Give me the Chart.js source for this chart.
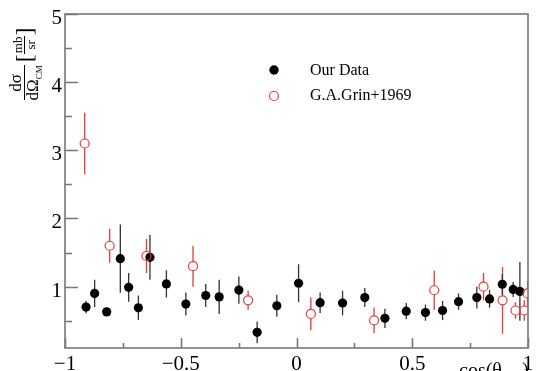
<!DOCTYPE html>
<html>
<head>
<meta charset="utf-8">
<script src="https://cdn.jsdelivr.net/npm/chart.js@4.4.1/dist/chart.umd.min.js"></script>
<style>
  html, body { margin: 0; padding: 0; background: #fff; }
  #wrap { position: relative; width: 540px; height: 371px; overflow: hidden; }
  #my { position: absolute; left: 0; top: 0; }
  #ytitle {
    position: absolute; left: -14px; top: 47px; width: 76px; height: 34px;
    transform: rotate(-90deg); transform-origin: 50% 50%;
    font-family: "Liberation Serif", "DejaVu Serif", serif; color: #000;
    white-space: nowrap; display: flex; align-items: center; justify-content: center;
  }
  .frac { display: inline-block; text-align: center; }
  .frac .num { display: block; border-bottom: 1px solid #000; }
  .frac .den { display: block; }
  .big { font-size: 17px; line-height: 14px; }
  .big .num { padding: 0 2px 1px 2px; }
  .big .den { padding-top: 1px; }
  .big sub { font-size: 9px; vertical-align: -4px; line-height: 0; }
  .small { font-size: 13px; line-height: 11px; margin: 0 0 0 0; }
  .small .num { padding: 0 1px 1px 1px; }
  .br { font-size: 24px; line-height: 24px; margin-left: 3px; }
</style>
</head>
<body>
<div id="wrap">
  <canvas id="my" width="540" height="371"></canvas>
  <div id="ytitle">
    <span class="frac big"><span class="num">d&sigma;</span><span class="den">d&Omega;<sub>CM</sub></span></span>
    <span class="br">[</span><span class="frac small"><span class="num">mb</span><span class="den">sr</span></span><span class="br" style="margin-left:0">]</span>
  </div>
</div>
<script>
// our measurement
const ourX = [-0.909, -0.872, -0.820, -0.761, -0.725, -0.683, -0.633, -0.562, -0.478, -0.392, -0.334, -0.249, -0.170, -0.085,
  0.009, 0.102, 0.199, 0.295, 0.382, 0.474, 0.557, 0.631, 0.700, 0.779, 0.834, 0.889, 0.936, 0.965];
const ourY = [0.70, 0.90, 0.63, 1.41, 0.99, 0.69, 1.43, 1.04, 0.745, 0.87, 0.85, 0.95, 0.33, 0.72,
  1.05, 0.765, 0.76, 0.84, 0.535, 0.64, 0.62, 0.65, 0.78, 0.84, 0.82, 1.035, 0.96, 0.93];
const ourErr = [0.09, 0.20, 0.04, 0.50, 0.21, 0.18, 0.33, 0.20, 0.17, 0.17, 0.25, 0.20, 0.16, 0.16,
  0.28, 0.15, 0.18, 0.14, 0.14, 0.12, 0.12, 0.14, 0.12, 0.16, 0.13, 0.15, 0.11, 0.43];

// G.A.Grin+1969
const grinX = [-0.915, -0.807, -0.648, -0.447, -0.209, 0.062, 0.335, 0.595, 0.808, 0.890, 0.946, 0.984, 0.998];
const grinY = [3.10, 1.60, 1.45, 1.30, 0.80, 0.60, 0.505, 0.947, 1.00, 0.80, 0.65, 0.65, 0.90];
const grinErr = [0.45, 0.25, 0.25, 0.30, 0.14, 0.24, 0.19, 0.29, 0.20, 0.49, 0.12, 0.15, 0.18];

const xMajor = [-1, -0.5, 0, 0.5, 1];
const xMinor = [-0.75, -0.25, 0.25, 0.75];
const yMajor = [1, 2, 3, 4, 5];
const yMinor = [0.5, 1.5, 2.5, 3.5, 4.5];

const legendLabels = ['Our Data', 'G.A.Grin+1969'];

const SERIF = '"Liberation Serif", "DejaVu Serif", serif';
const RED = '#e63b3b';
const AXIS = '#777';

function pts(xs, ys) {
  return xs.map((x, i) => ({ x: x, y: ys[i] }));
}
function fmt(v) {
  return String(v).replace('-', '\u2212');
}

// vertical error bars, drawn under the markers
const errorBars = {
  id: 'errorBars',
  beforeDatasetsDraw(chart) {
    const ctx = chart.ctx;
    const xs = chart.scales.x, ys = chart.scales.y;
    const sets = [[grinX, grinY, grinErr, RED, true], [ourX, ourY, ourErr, '#333', false]];
    ctx.save();
    for (const [X, Y, E, col, gap] of sets) {
      ctx.strokeStyle = col;
      ctx.lineWidth = 1.3;
      for (let i = 0; i < X.length; i++) {
        const px = xs.getPixelForValue(X[i]);
        const py = ys.getPixelForValue(Y[i]);
        const top = ys.getPixelForValue(Y[i] + E[i]);
        const bot = ys.getPixelForValue(Y[i] - E[i]);
        const g = gap ? 4.5 : 0;
        ctx.beginPath();
        if (top < py - g) { ctx.moveTo(px, top); ctx.lineTo(px, py - g); }
        if (bot > py + g) { ctx.moveTo(px, py + g); ctx.lineTo(px, bot); }
        ctx.stroke();
      }
    }
    ctx.restore();
  }
};

// frame, inside ticks, labels, legend
const frame = {
  id: 'frame',
  afterDraw(chart) {
    const ctx = chart.ctx;
    const a = chart.chartArea;
    const xs = chart.scales.x, ys = chart.scales.y;
    ctx.save();
    ctx.strokeStyle = AXIS;
    ctx.lineWidth = 1.6;
    ctx.strokeRect(a.left, a.top, a.right - a.left, a.bottom - a.top);

    ctx.beginPath();
    for (const v of yMajor) {
      const p = Math.round(ys.getPixelForValue(v)) + 0.5;
      ctx.moveTo(a.left, p); ctx.lineTo(a.left + 13, p);
    }
    for (const v of yMinor) {
      const p = Math.round(ys.getPixelForValue(v)) + 0.5;
      ctx.moveTo(a.left, p); ctx.lineTo(a.left + 7, p);
    }
    for (const v of xMajor) {
      const p = Math.round(xs.getPixelForValue(v)) + 0.5;
      ctx.moveTo(p, a.bottom); ctx.lineTo(p, a.bottom - 10);
    }
    for (const v of xMinor) {
      const p = Math.round(xs.getPixelForValue(v)) + 0.5;
      ctx.moveTo(p, a.bottom); ctx.lineTo(p, a.bottom - 5);
    }
    ctx.stroke();

    ctx.fillStyle = '#000';
    ctx.font = '21px ' + SERIF;
    ctx.textBaseline = 'alphabetic';
    ctx.textAlign = 'right';
    for (const v of yMajor) {
      ctx.fillText(fmt(v), a.left - 3, ys.getPixelForValue(v) + 10);
    }
    ctx.textAlign = 'center';
    for (const v of xMajor) {
      ctx.fillText(fmt(v), xs.getPixelForValue(v), 370);
    }

    // x title, cut by the bottom edge
    ctx.textAlign = 'left';
    ctx.font = '20px ' + SERIF;
    let tx = 459;
    ctx.fillText('cos(\u03b8', tx, 377);
    tx += ctx.measureText('cos(\u03b8').width;
    ctx.font = '13px ' + SERIF;
    ctx.fillText('CM', tx, 381);
    tx += ctx.measureText('CM').width;
    ctx.font = '20px ' + SERIF;
    ctx.fillText(')', tx, 377);
    ctx.restore();

    // legend
    ctx.save();
    ctx.fillStyle = '#000';
    ctx.beginPath();
    ctx.arc(274, 70, 4.7, 0, Math.PI * 2);
    ctx.fill();
    ctx.strokeStyle = RED;
    ctx.lineWidth = 1.2;
    ctx.beginPath();
    ctx.arc(274, 96, 4.5, 0, Math.PI * 2);
    ctx.stroke();
    ctx.font = '16px ' + SERIF;
    ctx.textAlign = 'left';
    ctx.textBaseline = 'alphabetic';
    ctx.fillText(legendLabels[0], 310, 75);
    ctx.fillText(legendLabels[1], 310, 100);
    ctx.restore();
  }
};

new Chart(document.getElementById('my'), {
  type: 'scatter',
  data: {
    datasets: [
      {
        label: legendLabels[1],
        data: pts(grinX, grinY),
        pointRadius: 4.5,
        pointBackgroundColor: 'rgba(0,0,0,0)',
        pointBorderColor: RED,
        pointBorderWidth: 1.2
      },
      {
        label: legendLabels[0],
        data: pts(ourX, ourY),
        pointRadius: 4.6,
        pointBackgroundColor: '#000',
        pointBorderColor: '#000',
        pointBorderWidth: 0
      }
    ]
  },
  options: {
    responsive: false,
    devicePixelRatio: 1,
    animation: false,
    events: [],
    layout: { padding: { left: 65, right: 12, top: 14, bottom: 23 } },
    scales: {
      x: { type: 'linear', min: -1, max: 1, display: false },
      y: { type: 'linear', min: 0.1, max: 5, display: false }
    },
    plugins: { legend: { display: false }, tooltip: { enabled: false } }
  },
  plugins: [errorBars, frame]
});
</script>
</body>
</html>
